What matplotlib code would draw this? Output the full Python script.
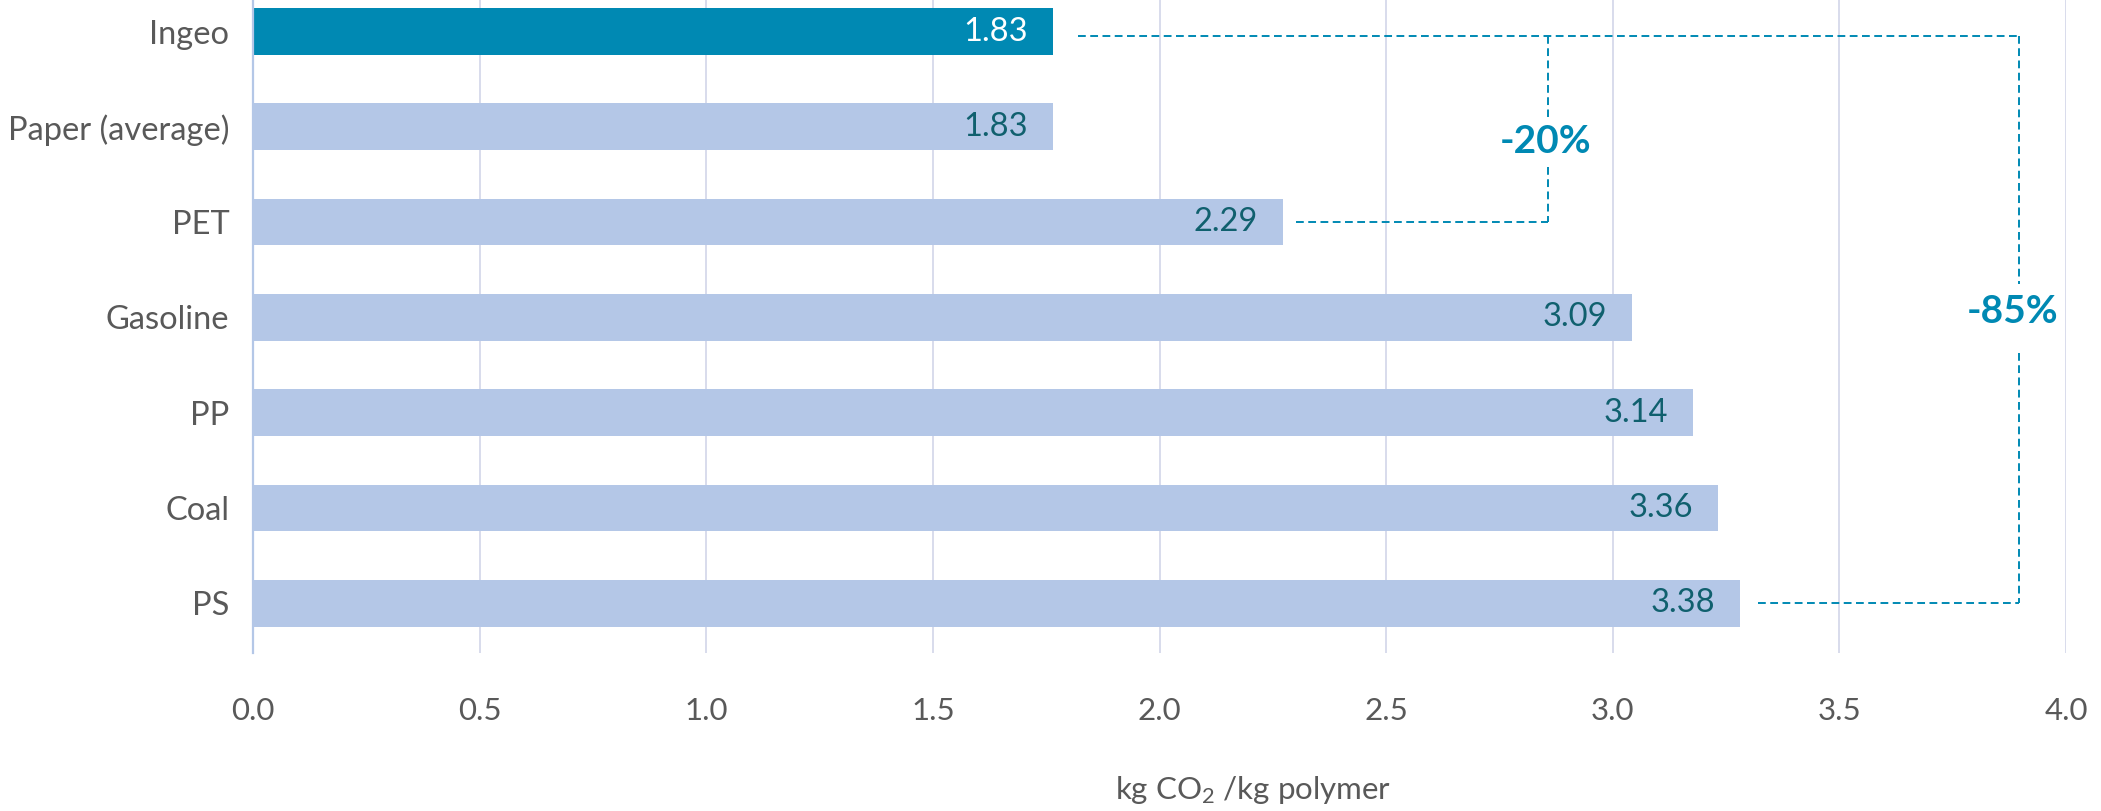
import matplotlib
matplotlib.use('Agg')
import matplotlib.pyplot as plt

# ---- data ----
categories = ['Ingeo', 'Paper (average)', 'PET', 'Gasoline', 'PP', 'Coal', 'PS']
bar_values = [1.765, 1.765, 2.272, 3.042, 3.177, 3.232, 3.281]
value_labels = ['1.83', '1.83', '2.29', '3.09', '3.14', '3.36', '3.38']
x_ticks = [0.0, 0.5, 1.0, 1.5, 2.0, 2.5, 3.0, 3.5, 4.0]
x_tick_labels = ['0.0', '0.5', '1.0', '1.5', '2.0', '2.5', '3.0', '3.5', '4.0']
reduction_labels = ['-20%', '-85%']
x_title = 'kg CO$_\\mathrm{2}$ /kg polymer'

FONT = 'Lato'
plt.rcParams['font.family'] = [FONT, 'DejaVu Sans']
plt.rcParams['mathtext.fontset'] = 'custom'
plt.rcParams['mathtext.rm'] = FONT
plt.rcParams['mathtext.it'] = FONT + ':italic'
plt.rcParams['mathtext.bf'] = FONT + ':bold'

HI = '#0089b3'
LIGHT = '#b4c7e7'
GRAY = '#595959'
DARK_LABEL = '#10606e'
GRID = '#d6d9ea'

fig = plt.figure(figsize=(21.01, 8.11), dpi=100)
W, H = 2101, 811
ax = fig.add_axes([253 / W, 158 / H, 1813 / W, 653 / H])

y = list(range(len(categories)))
colors = [HI] + [LIGHT] * (len(categories) - 1)
ax.barh(y, bar_values, height=0.49, color=colors, zorder=3)

ax.set_xlim(0, 4.0)
ax.set_ylim(6.521, -0.331)

ax.set_xticks(x_ticks)
ax.set_xticklabels(x_tick_labels)
ax.set_yticks(y)
ax.set_yticklabels(categories)
ax.tick_params(axis='x', length=0, pad=32, labelsize=22.5, labelcolor=GRAY)
ax.tick_params(axis='y', length=0, pad=17, labelsize=23.5, labelcolor=GRAY)

ax.grid(axis='x', color=GRID, linewidth=1.3, zorder=0)
ax.grid(axis='y', visible=False)
for s in ['top', 'right', 'bottom']:
    ax.spines[s].set_visible(False)
ax.spines['left'].set_color(LIGHT)
ax.spines['left'].set_linewidth(1.6)
ax.spines['left'].set_zorder(4)

# value labels inside bar ends
for i, (v, lab) in enumerate(zip(bar_values, value_labels)):
    ax.text(v - 0.055, i, lab, ha='right', va='center', fontsize=23.5,
            color='white' if i == 0 else DARK_LABEL, zorder=5)

# dashed brackets
dash = dict(color=HI, linewidth=1.4, dashes=(4.0, 2.3), zorder=4)
x20 = 2.857
x85 = 3.896
i0, i20, i85 = 0, 2, 6
ax.plot([bar_values[i0] + 0.055, x85], [i0 + 0.05, i0 + 0.05], **dash)
ax.plot([bar_values[i20] + 0.03, x20], [i20, i20], **dash)
ax.plot([bar_values[i85] + 0.04, x85], [i85, i85], **dash)
# vertical parts with gaps for labels
ax.plot([x20, x20], [i0 + 0.05, 0.90], **dash)
ax.plot([x20, x20], [1.42, i20], **dash)
ax.plot([x85, x85], [i0 + 0.05, 2.65], **dash)
ax.plot([x85, x85], [3.37, i85], **dash)

ax.text(x20 - 0.005, 1.15, reduction_labels[0], ha='center', va='center',
        fontsize=28, fontweight='bold', color=HI, zorder=5)
ax.text(x85 - 0.015, 2.94, reduction_labels[1], ha='center', va='center',
        fontsize=28, fontweight='bold', color=HI, zorder=5)

fig.text(1253 / W, 1 - 790 / H, x_title, ha='center', va='center',
         fontsize=22.5, color=GRAY)

fig.savefig('out.png', dpi=100, facecolor='white')
